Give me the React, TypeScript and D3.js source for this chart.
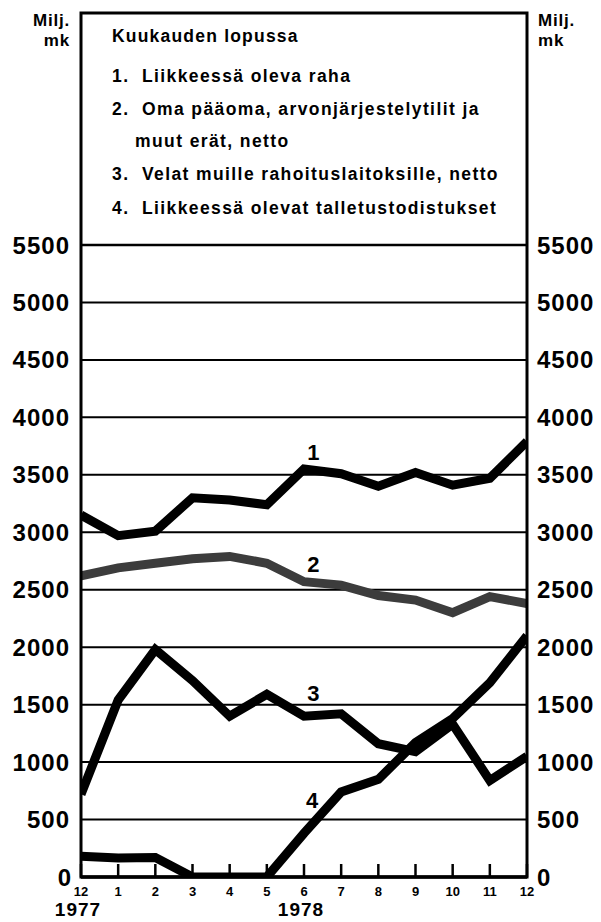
import React from "react";
import * as d3 from "d3";

const months = ["12", "1", "2", "3", "4", "5", "6", "7", "8", "9", "10", "11", "12"];
const years = [
  { label: "1977", index: 0 },
  { label: "1978", index: 6 },
];
const yTicks = [0, 500, 1000, 1500, 2000, 2500, 3000, 3500, 4000, 4500, 5000, 5500];

const series1 = [3150, 2970, 3010, 3300, 3280, 3240, 3550, 3510, 3400, 3520, 3410, 3470, 3790];
const series2 = [2620, 2690, 2730, 2770, 2790, 2730, 2570, 2540, 2450, 2410, 2300, 2440, 2380];
const series3 = [720, 1540, 1980, 1710, 1400, 1590, 1400, 1420, 1160, 1090, 1330, 840, 1050];
const series4 = [180, 165, 170, 0, 0, 0, 380, 740, 850, 1170, 1380, 1690, 2100];

const legendTitle = "Kuukauden lopussa";
const legendLines = [
  { text: "1.  Liikkeessä oleva raha", indent: false },
  { text: "2.  Oma pääoma, arvonjärjestelytilit ja", indent: false },
  { text: "muut erät, netto", indent: true },
  { text: "3.  Velat muille rahoituslaitoksille, netto", indent: false },
  { text: "4.  Liikkeessä olevat talletustodistukset", indent: false },
];
const legendBaselines = [82, 115, 147, 180, 214];

const seriesList = [
  { values: series1, color: "#000", label: "1", labelIdx: 6.25, labelVal: 3700 },
  { values: series2, color: "#3c3c3c", label: "2", labelIdx: 6.25, labelVal: 2720 },
  { values: series3, color: "#000", label: "3", labelIdx: 6.25, labelVal: 1600 },
  { values: series4, color: "#000", label: "4", labelIdx: 6.22, labelVal: 670 },
];

const W = 601;
const H = 922;
const left = 81;
const right = 527;
const top = 13;
const font = "'Liberation Sans', Arial, Helvetica, sans-serif";

export default function App() {
  const x = d3.scaleLinear().domain([0, 12]).range([left, right]);
  const y = d3.scaleLinear().domain([0, 5500]).range([877, 245]);
  const line = d3
    .line<number>()
    .x((_, i) => x(i))
    .y((d) => y(d));

  return (
    <svg
      width={W}
      height={H}
      style={{ position: "absolute", left: 0, top: 0, background: "#fff" }}
      fontFamily={font}
      fontWeight="bold"
    >
      <defs>
        <clipPath id="plot">
          <rect x={left} y={y(5500)} width={right - left} height={y(0) - y(5500)} />
        </clipPath>
      </defs>

      {/* gridlines */}
      {yTicks.map((t) => (
        <line key={t} x1={left} x2={right} y1={y(t)} y2={y(t)} stroke="#000" strokeWidth={2} />
      ))}

      {/* y tick labels */}
      {yTicks.map((t) => (
        <g key={"l" + t} fontSize={24} letterSpacing={1}>
          <text x={t === 0 ? 72 : 70} y={y(t) + 8.5} textAnchor="end">
            {t}
          </text>
          <text x={537} y={y(t) + 8.5} textAnchor="start">
            {t}
          </text>
        </g>
      ))}

      {/* month ticks */}
      {months.map((m, i) => (
        <line key={"t" + i} x1={x(i)} x2={x(i)} y1={y(0)} y2={y(0) - 13} stroke="#000" strokeWidth={2.5} />
      ))}
      {months.map((m, i) => (
        <text key={"m" + i} x={x(i)} y={896} textAnchor="middle" fontSize={13}>
          {m}
        </text>
      ))}
      {years.map((yr) => (
        <text key={yr.label} x={x(yr.index) - 3} y={916} textAnchor="middle" fontSize={19} letterSpacing={1}>
          {yr.label}
        </text>
      ))}

      {/* series */}
      <g clipPath="url(#plot)">
        {seriesList.map((s, i) => (
          <path
            key={i}
            d={line(s.values) || ""}
            fill="none"
            stroke={s.color}
            strokeWidth={9}
            strokeLinejoin="miter"
          />
        ))}
      </g>
      {seriesList.map((s, i) => (
        <text key={"sl" + i} x={x(s.labelIdx)} y={y(s.labelVal) + 8} textAnchor="middle" fontSize={22}>
          {s.label}
        </text>
      ))}

      {/* frame */}
      <rect x={left} y={top} width={right - left} height={y(0) - top} fill="none" stroke="#000" strokeWidth={3} />
      <line x1={left} x2={right} y1={y(0)} y2={y(0)} stroke="#000" strokeWidth={3.5} />
      <line x1={left} x2={right} y1={y(5500)} y2={y(5500)} stroke="#000" strokeWidth={2.5} />

      {/* unit labels */}
      <g fontSize={17} letterSpacing={0.8}>
        <text x={70} y={26} textAnchor="end">Milj.</text>
        <text x={70} y={46} textAnchor="end">mk</text>
        <text x={538} y={26}>Milj.</text>
        <text x={538} y={46}>mk</text>
      </g>

      {/* legend */}
      <g fontSize={17.5}>
        <text x={112} y={42} letterSpacing={1.2}>{legendTitle}</text>
        {legendLines.map((l, i) => (
          <text
            key={i}
            x={l.indent ? 135 : 112}
            y={legendBaselines[i]}
            letterSpacing={1.4}
            style={{ whiteSpace: "pre" }}
          >
            {l.text}
          </text>
        ))}
      </g>
    </svg>
  );
}
